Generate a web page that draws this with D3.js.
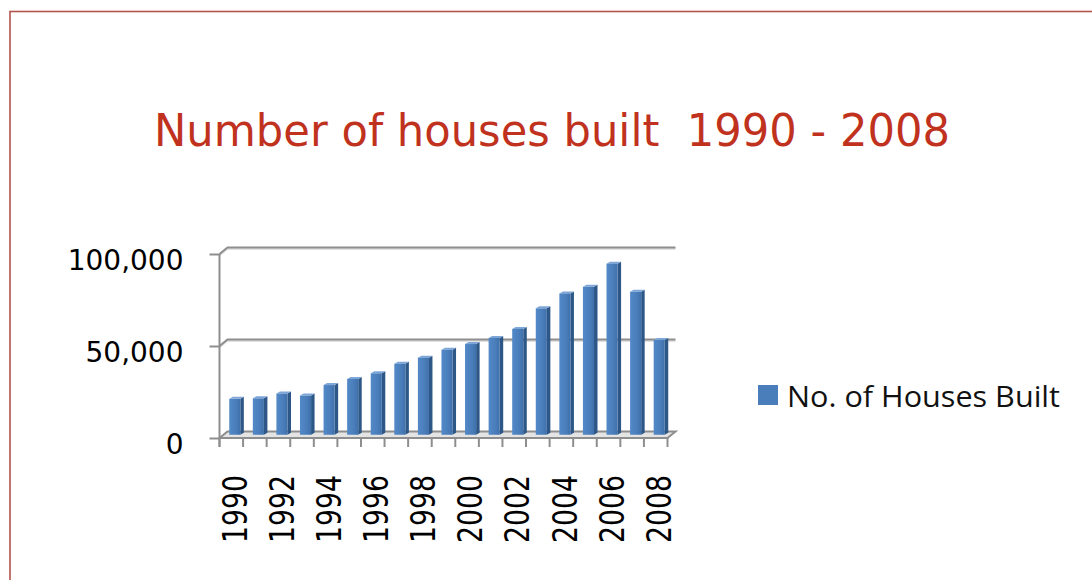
<!DOCTYPE html>
<html>
<head>
<meta charset="utf-8">
<script src="https://cdn.jsdelivr.net/npm/d3@7"></script>
<style>
  body { margin: 0; background: #fff; }
  svg { display: block; }
</style>
</head>
<body>
<div id="chart"></div>
<script>
// data
const years = ["1990", "1991", "1992", "1993", "1994", "1995", "1996", "1997", "1998", "1999",
               "2000", "2001", "2002", "2003", "2004", "2005", "2006", "2007", "2008"];
const housesBuilt = [19500, 19800, 22400, 21300, 27000, 30300, 33400, 38600, 41900, 46200,
                     49300, 52600, 57500, 68700, 76800, 80400, 93000, 77700, 51500];
const yTicks = [0, 50000, 100000];
const seriesName = "No. of Houses Built";
const chartTitle = "Number of houses built  1990 - 2008";

const width = 1092, height = 580;
const depth = { dx: 8, dy: -6.5 };   // back wall offset of the 3d box
const barColor = "#4a7ebb";

const svg = d3.select("#chart").append("svg")
    .attr("width", width)
    .attr("height", height);

// gradient for bar fronts
const defs = svg.append("defs");
const grad = defs.append("linearGradient").attr("id", "barFront")
    .attr("x1", "0%").attr("x2", "100%");
grad.append("stop").attr("offset", "0%").attr("stop-color", "#5389c8");
grad.append("stop").attr("offset", "60%").attr("stop-color", "#4a7ebb");
grad.append("stop").attr("offset", "100%").attr("stop-color", "#3f70aa");

// slide frame
svg.append("rect")
    .attr("x", 10).attr("y", 11.5)
    .attr("width", width + 20).attr("height", height + 20)
    .attr("fill", "#fff")
    .attr("stroke", "#b4544c")
    .attr("stroke-width", 1.6);

svg.append("text")
    .attr("x", 154).attr("y", 146)
    .attr("textLength", 796)
    .attr("lengthAdjust", "spacingAndGlyphs")
    .style("white-space", "pre")
    .style("font-family", "'DejaVu Sans', Verdana, sans-serif")
    .style("font-size", "44px")
    .attr("fill", "#c0321e")
    .text(chartTitle);

const x = d3.scaleBand()
    .domain(years)
    .range([219.5, 667.5])
    .paddingInner(0)
    .paddingOuter(0);

const y = d3.scaleLinear()
    .domain([0, 100000])
    .range([438, 254]);

const x0 = x.range()[0], x1 = x.range()[1];

// floor
const floor = svg.append("g");
floor.append("path")
    .attr("d", `M${x0},${y(0)} L${x0 + depth.dx},${y(0) + depth.dy} L${x1 + depth.dx},${y(0) + depth.dy} L${x1},${y(0)} Z`)
    .attr("fill", "#e4e4e4")
    .attr("stroke", "#8e8e8e")
    .attr("stroke-width", 2);

// back gridlines with the little diagonal from the front axis
const grid = svg.append("g");
yTicks.filter(d => d > 0).forEach(d => {
    const yy = y(d);
    grid.append("path")
        .attr("d", `M${x0},${yy + 1.5} L${x0 + depth.dx},${yy + depth.dy + 1.5} L${x1 + depth.dx},${yy + depth.dy + 1.5}`)
        .attr("fill", "none").attr("stroke", "#d6d6d6").attr("stroke-width", 1.5);
    grid.append("path")
        .attr("d", `M${x0},${yy} L${x0 + depth.dx},${yy + depth.dy} L${x1 + depth.dx},${yy + depth.dy}`)
        .attr("fill", "none").attr("stroke", "#8e8e8e").attr("stroke-width", 2);
});

// bars sit halfway into the depth
const bw = x.bandwidth() * 0.47;
const side = 3.5;
const bars = svg.append("g").selectAll("g")
    .data(years.map((yr, i) => ({ year: yr, value: housesBuilt[i] })))
    .join("g")
    .attr("transform", d => `translate(${x(d.year) + x.bandwidth() / 2 - bw / 2 + depth.dx / 2 - 0.5},${depth.dy / 2})`);

bars.append("path")
    .attr("d", d => `M${bw},${y(d.value)} L${bw + side},${y(d.value) - 2} L${bw + side},${y(0) - 2} L${bw},${y(0)} Z`)
    .attr("fill", "#2d5787");
bars.append("path")
    .attr("d", d => `M0,${y(d.value)} L${side},${y(d.value) - 2} L${bw + side},${y(d.value) - 2} L${bw},${y(d.value)} Z`)
    .attr("fill", "#7ea6d8");
bars.append("rect")
    .attr("x", 0)
    .attr("y", d => y(d.value))
    .attr("width", bw)
    .attr("height", d => y(0) - y(d.value))
    .attr("fill", "url(#barFront)");

// value axis
const yAxis = svg.append("g")
    .attr("transform", `translate(${x0},0)`)
    .call(d3.axisLeft(y)
        .tickValues(yTicks)
        .tickFormat(d3.format(","))
        .tickSize(10)
        .tickSizeOuter(0)
        .tickPadding(26));
yAxis.select(".domain").remove();
yAxis.selectAll(".tick line").attr("stroke", "#8e8e8e").attr("stroke-width", 2);
yAxis.selectAll(".tick text")
    .attr("dy", "0.55em")
    .style("font-family", "'DejaVu Sans', Verdana, sans-serif")
    .style("font-size", "28px")
    .attr("fill", "#000");
yAxis.append("line")
    .attr("x1", 0).attr("x2", 0)
    .attr("y1", y(100000)).attr("y2", y(0) + 9)
    .attr("stroke", "#8e8e8e").attr("stroke-width", 2);

// category axis: ticks between bands, label every other year
const xAxis = svg.append("g");
const edges = years.map(d => x(d)).concat([x1]);
xAxis.selectAll("line")
    .data(edges)
    .join("line")
    .attr("x1", d => d).attr("x2", d => d)
    .attr("y1", y(0)).attr("y2", y(0) + 9)
    .attr("stroke", "#8e8e8e").attr("stroke-width", 2);
xAxis.append("line")
    .attr("x1", x0).attr("x2", x1)
    .attr("y1", y(0)).attr("y2", y(0))
    .attr("stroke", "#8e8e8e").attr("stroke-width", 2);
xAxis.selectAll("text")
    .data(years.filter((d, i) => i % 2 === 0))
    .join("text")
    .attr("transform", d => `translate(${x(d) + x.bandwidth() / 2 + 3},475) rotate(-90)`)
    .attr("text-anchor", "end")
    .attr("dy", "0.37em")
    .attr("textLength", 68)
    .attr("lengthAdjust", "spacingAndGlyphs")
    .style("font-family", "'DejaVu Sans', Verdana, sans-serif")
    .style("font-size", "33px")
    .attr("fill", "#000")
    .text(d => d);

// legend
const legend = svg.append("g").attr("transform", "translate(758,385)");
legend.append("rect")
    .attr("width", 20).attr("height", 20)
    .attr("fill", barColor);
legend.append("text")
    .attr("x", 29).attr("y", 22)
    .attr("textLength", 273)
    .attr("lengthAdjust", "spacingAndGlyphs")
    .style("font-family", "'Open Sans', 'Noto Sans', sans-serif")
    .style("font-size", "29px")
    .attr("fill", "#111")
    .text(seriesName);
</script>
</body>
</html>
